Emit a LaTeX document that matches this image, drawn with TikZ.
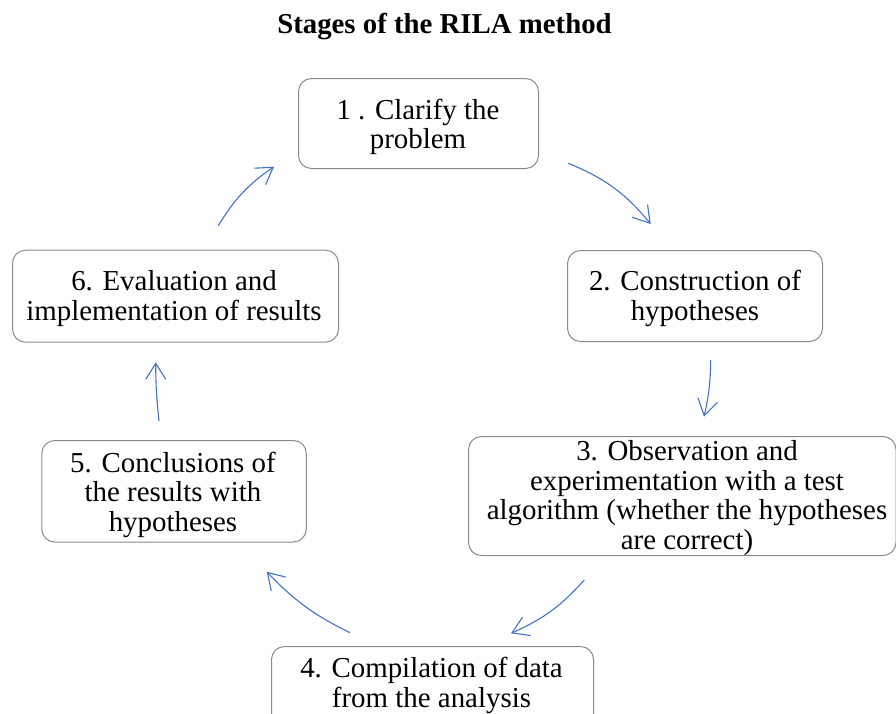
\documentclass[tikz,border=0pt]{standalone}
\usepackage{fontspec}
\setmainfont{Liberation Serif}
\usetikzlibrary{arrows.meta}
\definecolor{boxline}{HTML}{8A8A8A}
\definecolor{arrowblue}{HTML}{4472C4}
\begin{document}
\begin{tikzpicture}[x=1pt,y=-1pt,
  stagebox/.style={draw=boxline, line width=1pt, rounded corners=13pt, inner sep=0pt},
  stagetext/.style={align=center, inner sep=0pt, anchor=north,
    font=\fontsize{28.9}{29.6}\selectfont},
  flow/.style={draw=arrowblue, line width=1.1pt,
    -{Straight Barb[length=16pt,width=20pt,line width=1.1pt]}}]
\useasboundingbox (0,0) rectangle (896,713);
\clip (0,0) rectangle (896,713);

% title
\node[anchor=base, inner sep=0pt, font=\bfseries\fontsize{28.8}{32}\selectfont]
  (title) at (444.5,33.5) {Stages of the RILA method};

% stage frames: corners (left,top) and (right,bottom)
\node[stagebox, minimum width=240pt, minimum height=90pt, anchor=north west] (s1) at (298,78) {};
\node[stagebox, minimum width=255pt, minimum height=91pt, anchor=north west] (s2) at (567,250) {};
\node[stagebox, minimum width=427.5pt, minimum height=119pt, anchor=north west] (s3) at (468,436) {};
\node[stagebox, minimum width=322pt, minimum height=80pt, anchor=north west] (s4) at (271,646) {};
\node[stagebox, minimum width=264.5pt, minimum height=101.5pt, anchor=north west] (s5) at (41.3,440) {};
\node[stagebox, minimum width=326pt, minimum height=92pt, anchor=north west] (s6) at (12,249.7) {};

% stage texts, placed by the top of their first line
\node[stagetext] (t1) at (418,98.5) {1 . Clarify the\\problem};
\node[stagetext] (t2) at (695,270.3) {2. Construction of\\hypotheses};
\node[stagetext] (t3) at (687,440.5) {3. Observation and\\experimentation with a test\\algorithm (whether the hypotheses\\are correct)};
\node[stagetext] (t4) at (431.5,657) {4. Compilation of data\\from the analysis};
\node[stagetext] (t5) at (173,451.5) {5. Conclusions of\\the results with\\hypotheses};
\node[stagetext] (t6) at (174,270.3) {6. Evaluation and\\implementation of results};

% ends of the cycle arrows, in the gaps between the stages
\coordinate (a1s) at (568.3,163.3); \coordinate (a1e) at (650.7,224);
\coordinate (a2s) at (710.7,360);   \coordinate (a2e) at (704,416.7);
\coordinate (a3s) at (584.3,580);   \coordinate (a3e) at (511,633.3);
\coordinate (a4s) at (350,632.7);   \coordinate (a4e) at (266.7,571.7);
\coordinate (a5s) at (159,421);     \coordinate (a5e) at (155.7,362.3);
\coordinate (a6s) at (218.3,225.7); \coordinate (a6e) at (274,166.7);

\draw[flow] (a1s) to[bend left=14] (a1e);
\draw[flow] (a2s) to[bend left=6] (a2e);
\draw[flow] (a3s) to[bend left=12] (a3e);
\draw[flow] (a4s) to[bend left=10] (a4e);
\draw[flow] (a5s) to[bend left=3] (a5e);
\draw[flow] (a6s) to[bend left=12] (a6e);
\end{tikzpicture}
\end{document}
